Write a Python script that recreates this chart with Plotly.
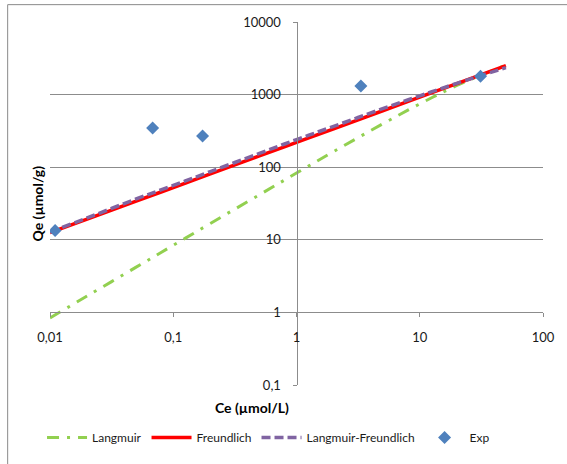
import plotly.graph_objects as go

# Equilibrium concentration grid (µmol/L) used for the model curves
ce_model = [0.01, 0.02, 0.05, 0.1, 0.2, 0.5, 1, 2, 5, 10, 20, 50]

# Model isotherms, Qe (µmol/g)
qe_langmuir = [0.84, 1.68, 4.2, 8.4, 16.8, 41.7, 83, 164, 395, 744, 1334, 2550]
qe_freundlich = [12.6, 19.3, 34.1, 52.5, 80.8, 143, 220, 338, 599, 921, 1418, 2500]
qe_lang_freund = [12.8, 20.0, 36.5, 56, 87, 155, 240, 365, 640, 960, 1430, 2350]

# Experimental points
ce_exp = [0.011, 0.068, 0.173, 3.33, 31.1]
qe_exp = [13.4, 348, 270, 1310, 1795]

# Axis ticks (comma as decimal separator)
x_ticks = [0.01, 0.1, 1, 10, 100]
x_labels = ["0,01", "0,1", "1", "10", "100"]
y_ticks = [0.1, 1, 10, 100, 1000, 10000]
y_labels = ["0,1", "1", "10", "100", "1000", "10000"]

FONT = "Lato, 'Liberation Sans', Arial, sans-serif"
GRID = "#8c8c8c"

# plot area in pixels
W, H = 567, 464
L, R, T, B = 50, 22, 22, 76
PW, PH = W - L - R, H - T - B


def px_x(px):
    return (px - L) / PW


def px_y(py):
    return (H - B - py) / PH


fig = go.Figure()

fig.add_trace(go.Scatter(
    x=ce_model, y=qe_langmuir, name="Langmuir", mode="lines",
    line=dict(color="#92D050", width=3, dash="12px,8px,3px,8px", shape="spline"),
))
fig.add_trace(go.Scatter(
    x=ce_model, y=qe_freundlich, name="Freundlich", mode="lines",
    line=dict(color="#FF0000", width=3.5, shape="spline"),
))
fig.add_trace(go.Scatter(
    x=ce_model, y=qe_lang_freund, name="Langmuir-Freundlich", mode="lines",
    line=dict(color="#8064A2", width=3.5, dash="9px,4px", shape="spline"),
))
fig.add_trace(go.Scatter(
    x=ce_exp, y=qe_exp, name="Exp", mode="markers",
    marker=dict(symbol="diamond", size=10, color="#4F81BD"),
))

fig.update_xaxes(
    type="log", range=[-2, 2], domain=[0, 1],
    anchor="free", position=0.2,
    tickvals=x_ticks, ticktext=x_labels,
    showgrid=False, showline=True, linecolor=GRID, linewidth=1,
    ticks="outside", ticklen=4, tickcolor=GRID, ticklabelstandoff=9,
    tickfont=dict(family=FONT, size=13, color="#1a1a1a"),
    zeroline=False,
)
fig.update_yaxes(
    type="log", range=[-1, 4], domain=[0, 1],
    anchor="free", position=0.5,
    tickvals=y_ticks, ticktext=y_labels,
    showgrid=True, gridcolor=GRID, gridwidth=1,
    showline=True, linecolor=GRID, linewidth=1,
    ticks="outside", ticklen=4, tickcolor=GRID, ticklabelstandoff=9,
    tickfont=dict(family=FONT, size=13, color="#1a1a1a"),
    zeroline=False,
)

fig.add_annotation(
    text="<b>Qe (µmol/g)</b>", textangle=-90, showarrow=False,
    xref="paper", yref="paper", x=px_x(37), y=px_y(205),
    xanchor="center", yanchor="middle",
    font=dict(family=FONT, size=14, color="#000000"),
)
fig.add_annotation(
    text="<b>Ce (µmol/L)</b>", showarrow=False,
    xref="paper", yref="paper", x=px_x(253), y=px_y(411),
    xanchor="center", yanchor="middle",
    font=dict(family=FONT, size=14, color="#000000"),
)

# chart frame
fig.add_shape(
    type="rect", xref="paper", yref="paper",
    x0=px_x(7.5), x1=px_x(580), y0=px_y(4.5), y1=px_y(480),
    line=dict(color="#8a8a8a", width=1), fillcolor="rgba(0,0,0,0)", layer="below",
)

fig.update_layout(
    width=W, height=H,
    margin=dict(l=L, r=R, t=T, b=B),
    paper_bgcolor="white", plot_bgcolor="white",
    font=dict(family=FONT, size=13, color="#1a1a1a"),
    legend=dict(
        orientation="h", x=px_x(42), y=px_y(441),
        xanchor="left", yanchor="middle",
        font=dict(family=FONT, size=12, color="#1a1a1a"),
        bgcolor="rgba(0,0,0,0)", itemwidth=40, tracegroupgap=0,
    ),
)

fig.write_html("out.html")
